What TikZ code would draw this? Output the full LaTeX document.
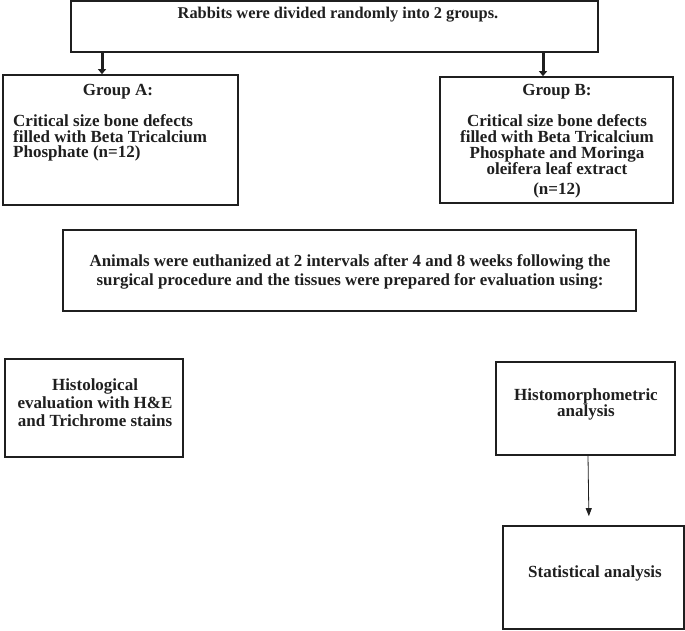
\documentclass[tikz,border=0pt]{standalone}
\usepackage{fontspec}
\setmainfont{Liberation Serif}
\usetikzlibrary{arrows.meta}
\begin{document}
\begin{tikzpicture}[x=1pt,y=-1pt,
  box/.style={draw=black!88,line width=1.7pt,rectangle,inner sep=0pt},
  txt/.style={font=\bfseries\fontsize{17}{16}\selectfont,align=center,inner sep=0pt,text=black!88},
  ltxt/.style={font=\bfseries\fontsize{17}{15.7}\selectfont,align=left,inner sep=0pt,text=black!88},
  htxt/.style={font=\bfseries\fontsize{17}{18}\selectfont,align=center,inner sep=0pt,text=black!88},
  mtxt/.style={font=\bfseries\fontsize{16.9}{19}\selectfont,align=center,inner sep=0pt,text=black!88},
  toptxt/.style={font=\bfseries\fontsize{16.4}{19}\selectfont,align=center,inner sep=0pt,text=black!88},
  fat/.style={line width=3pt,draw=black!88,-{Triangle[width=8pt,length=5pt]}},
  thin/.style={line width=0.8pt,draw=black!88,-{Triangle[width=6pt,length=8pt]}}
]
\useasboundingbox (0,0) rectangle (685,630);
% boxes
\node[box,minimum width=527pt,minimum height=51pt] (top) at (334.5,26.5) {};
\node[box,minimum width=235pt,minimum height=130pt] (ga) at (120.5,140) {};
\node[box,minimum width=233pt,minimum height=126pt] (gb) at (556.5,140) {};
\node[box,minimum width=573pt,minimum height=81pt] (mid) at (349.5,270.5) {};
\node[box,minimum width=178pt,minimum height=98pt] (hist) at (94,408) {};
\node[box,minimum width=179pt,minimum height=93pt] (hm) at (585.5,408.5) {};
\node[box,minimum width=181pt,minimum height=103pt] (st) at (593.5,577.5) {};
% texts
\node[toptxt] (ttop) at (338,15) {Rabbits were divided randomly into 2 groups.};
\node[txt] (tga) at (118,92) {Group A:};
\node[ltxt,anchor=west] (tga2) at (13,138) {Critical size bone defects\\filled with Beta Tricalcium\\Phosphate (n=12)};
\node[txt] (tgb) at (557,92) {Group B:};
\node[txt,anchor=north] (tgb2) at (557,114) {Critical size bone defects\\filled with Beta Tricalcium\\Phosphate and Moringa\\oleifera leaf extract\\[4pt](n=12)};
\node[mtxt] (tmid) at (350,271.5) {Animals were euthanized at 2 intervals after 4 and 8 weeks following the\\surgical procedure and the tissues were prepared for evaluation using:};
\node[htxt] (thist) at (95,403) {Histological\\evaluation with H\&E\\and Trichrome stains};
\node[txt] (thm) at (586,404) {Histomorphometric\\analysis};
\node[txt] (tst) at (595,573) {Statistical analysis};
% connectors
\draw[fat] (top.south -| 102,0) -- (ga.north -| 102,0);
\draw[fat] (top.south -| 543,0) -- (gb.north -| 543,0);
\draw[thin,shorten >=9pt] (hm.south -| 588,0) -- (st.north -| 589,0);
\end{tikzpicture}
\end{document}
